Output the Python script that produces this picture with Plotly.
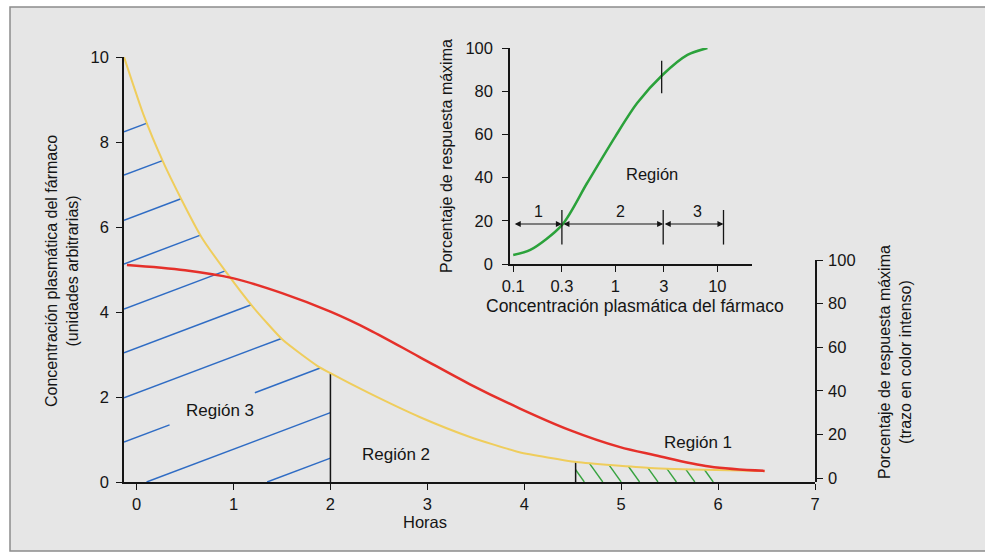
import numpy as np
import plotly.graph_objects as go

FONT = "Liberation Sans, Arial, sans-serif"
INK = "#151515"

# ---------------- main chart data ----------------
hours_conc = [-0.13, 0.07, 0.27, 0.46, 0.67, 0.93, 1.2, 1.51, 1.86, 2.0, 2.4, 2.92, 3.44, 3.95, 4.54, 5.3, 5.98, 6.48]
conc = [10.0, 8.65, 7.55, 6.66, 5.76, 4.92, 4.12, 3.34, 2.74, 2.56, 2.09, 1.53, 1.06, 0.7, 0.47, 0.33, 0.28, 0.26]

hours_resp = [-0.1, 0.5, 0.99, 1.5, 2.0, 2.4, 2.92, 3.44, 3.95, 4.47, 4.98, 5.35, 5.91, 6.48]
resp = [97.7, 95.3, 91.7, 84.8, 76.3, 68.0, 55.5, 43.0, 32.0, 22.0, 14.3, 10.5, 5.3, 3.3]

x_ticks = [0, 1, 2, 3, 4, 5, 6, 7]
y_ticks = [0, 2, 4, 6, 8, 10]
resp_ticks = [0, 20, 40, 60, 80, 100]

region_names = ["Región 3", "Región 2", "Región 1"]
region_label_x = [0.86, 2.68, 5.79]
region_label_y = [1.69, 0.64, 0.94]
region_limits = [2.0, 4.53, 5.96]

region3_hatch_offsets = [8.24, 7.22, 6.16, 5.13, 4.07, 3.04, 1.98, 0.94, -0.2, -1.27]
region3_hatch_slope = 0.86
region1_hatch_feet = [4.62, 4.81, 5.0, 5.19, 5.38, 5.57, 5.76, 5.95]
region1_hatch_slope = -3.2

# ---------------- inset data ----------------
inset_conc = [0.1, 0.147, 0.3, 0.53, 1.0, 1.64, 2.9, 5.1, 8.0]
inset_resp = [4.2, 6.5, 18, 37.5, 59, 74.5, 87.5, 96.8, 100]
inset_ticks = [0.1, 0.3, 1, 3, 10]
inset_tick_text = ["0.1", "0.3", "1", "3", "10"]
inset_bounds = [0.1, 0.3, 2.95, 11.5]
inset_region_names = ["1", "2", "3"]
inset_region_label_x = [0.176, 1.12, 6.4]
inset_arrow_level = 18.5

X_MIN = -0.13

fig = go.Figure()

def runs(xs, mask):
    segs = []
    idx = np.where(mask)[0]
    if len(idx) == 0:
        return segs
    breaks = np.where(np.diff(idx) > 1)[0]
    starts = np.concatenate([[idx[0]], idx[breaks + 1]])
    ends = np.concatenate([idx[breaks], [idx[-1]]])
    for s, e in zip(starts, ends):
        segs.append((xs[s], xs[e]))
    return segs

# Region 3 hatch (blue)
xs = np.linspace(X_MIN, region_limits[0], 5000)
ycurve = np.interp(xs, hours_conc, conc)
gap_box = (0.34, 1.22, 1.25, 2.15)  # keep label "Región 3" readable
hx, hy = [], []
for c in region3_hatch_offsets:
    f = c + region3_hatch_slope * (xs - X_MIN)
    ok = (f >= 0) & (f <= ycurve)
    in_box = (xs > gap_box[0]) & (xs < gap_box[1]) & (f > gap_box[2]) & (f < gap_box[3])
    ok &= ~in_box
    for a, b in runs(xs, ok):
        hx += [a, b, None]
        hy += [c + region3_hatch_slope * (a - X_MIN), c + region3_hatch_slope * (b - X_MIN), None]
fig.add_trace(go.Scatter(x=hx, y=hy, mode="lines", line=dict(color="#2f6cc4", width=1.5),
                         hoverinfo="skip", showlegend=False))

# Region 1 hatch (green)
xs1 = np.linspace(region_limits[1], region_limits[2], 3000)
yc1 = np.interp(xs1, hours_conc, conc)
gx, gy = [], []
for xb in region1_hatch_feet:
    f = region1_hatch_slope * (xs1 - xb)
    ok = (f >= 0) & (f <= yc1)
    for a, b in runs(xs1, ok):
        gx += [a, b, None]
        gy += [region1_hatch_slope * (a - xb), region1_hatch_slope * (b - xb), None]
fig.add_trace(go.Scatter(x=gx, y=gy, mode="lines", line=dict(color="#37a33f", width=1.4),
                         hoverinfo="skip", showlegend=False))

# region boundary verticals
vx, vy = [], []
for xv in region_limits[:2]:
    vx += [xv, xv, None]
    vy += [0, float(np.interp(xv, hours_conc, conc)), None]
fig.add_trace(go.Scatter(x=vx, y=vy, mode="lines", line=dict(color=INK, width=1.5),
                         hoverinfo="skip", showlegend=False))

# concentration curve (yellow)
fig.add_trace(go.Scatter(x=hours_conc, y=conc, mode="lines",
                         line=dict(color="#efcd5c", width=2, shape="spline", smoothing=0.5),
                         showlegend=False))
# response curve (red) on right axis
fig.add_trace(go.Scatter(x=hours_resp, y=resp, yaxis="y2", mode="lines",
                         line=dict(color="#e5302a", width=2.5, shape="spline", smoothing=1.0), showlegend=False))

# ---------- inset ----------
fig.add_trace(go.Scatter(x=inset_conc, y=inset_resp, xaxis="x2", yaxis="y3", mode="lines",
                         line=dict(color="#2ba23b", width=2.5, shape="spline", smoothing=0.8), showlegend=False))
mx, my = [], []
for b in inset_bounds[1:]:
    mx += [b, b, None]
    my += [inset_arrow_level - 9.5, inset_arrow_level + 6.5, None]
xc = 2.85
yc = float(np.interp(np.log10(xc), np.log10(inset_conc), inset_resp))
mx += [xc, xc, None]
my += [yc - 8, yc + 7, None]
fig.add_trace(go.Scatter(x=mx, y=my, xaxis="x2", yaxis="y3", mode="lines",
                         line=dict(color=INK, width=1.3), hoverinfo="skip", showlegend=False))

annotations = []
for i in range(3):
    annotations.append(dict(
        x=np.log10(inset_bounds[i + 1]), y=inset_arrow_level, xref="x2", yref="y3",
        ax=np.log10(inset_bounds[i]), ay=inset_arrow_level, axref="x2", ayref="y3",
        text="", showarrow=True, arrowhead=2, startarrowhead=2, arrowside="end+start",
        arrowsize=1.1, startarrowsize=1.1, arrowwidth=1.1, arrowcolor=INK))
    annotations.append(dict(
        x=np.log10(inset_region_label_x[i]), y=24.5, xref="x2", yref="y3",
        xanchor="center", yanchor="middle",
        text=inset_region_names[i], showarrow=False, font=dict(size=16, color=INK, family=FONT)))
annotations.append(dict(x=np.log10(2.3), y=41.7, xref="x2", yref="y3", text="Región",
                        xanchor="center", yanchor="middle",
                        showarrow=False, font=dict(size=16.5, color=INK, family=FONT)))

for name, xv, yv in zip(region_names, region_label_x, region_label_y):
    annotations.append(dict(x=xv, y=yv, xref="x", yref="y", text=name, showarrow=False,
                            xanchor="center", yanchor="middle",
                            font=dict(size=17, color=INK, family=FONT)))

L, R, T, B = 124, 170, 48, 70
W, H = 985, 552
pw, ph = W - L - R, H - T - B
def px2paper(px, py):
    return (px - L) / pw, (H - B - py) / ph

def title(px, py, text, size, angle=0):
    x, y = px2paper(px, py)
    return dict(x=x, y=y, xref="paper", yref="paper", textangle=angle, showarrow=False,
                xanchor="center", yanchor="middle", text=text,
                font=dict(size=size, color=INK, family=FONT))

annotations.append(title(62, 271, "Concentración plasmática del fármaco<br>(unidades arbitrarias)", 16, -90))
annotations.append(title(895, 362, "Porcentaje de respuesta máxima<br>(trazo en color intenso)", 16, -90))
annotations.append(title(425, 522, "Horas", 16.5))
annotations.append(title(635, 306, "Concentración plasmática del fármaco", 17.5))
annotations.append(title(446, 156, "Porcentaje de respuesta máxima", 16, -90))

# background frame
fx0, fy1 = px2paper(10, 7)
fx1, fy0 = px2paper(995, 551)
shapes = [dict(type="rect", xref="paper", yref="paper", x0=fx0, x1=fx1, y0=fy0, y1=fy1,
               fillcolor="#e6e6e6", line=dict(color="#8c8c8c", width=1.5), layer="below")]

tickfont = dict(size=16.5, color=INK, family=FONT)
axis_common = dict(showline=True, linecolor=INK, linewidth=1.5, ticks="outside", ticklen=6,
                   tickcolor=INK, tickwidth=1.3, showgrid=False, zeroline=False, tickfont=tickfont)

main_top = (H - B - 57) / ph
y2_top = (H - B - 260) / ph
in_x0, _ = px2paper(510, 0)
in_x1, _ = px2paper(752, 0)
_, in_y0 = px2paper(0, 264)

fig.update_layout(
    width=W, height=H, autosize=False,
    margin=dict(l=L, r=R, t=T, b=B, pad=0),
    paper_bgcolor="white", plot_bgcolor="rgba(0,0,0,0)",
    font=dict(family=FONT, color=INK),
    showlegend=False,
    xaxis=dict(range=[X_MIN, 7], domain=[0, 1], anchor="y", tickvals=x_ticks, **axis_common),
    yaxis=dict(range=[0, 10], domain=[0, main_top], anchor="x", tickvals=y_ticks,
               ticklabelstandoff=4, **axis_common),
    yaxis2=dict(range=[-1.8, 100], domain=[0, y2_top], anchor="x", side="right", tickvals=resp_ticks,
                ticklabelstandoff=2, **axis_common),
    xaxis2=dict(type="log", range=[np.log10(0.093), 1.34], domain=[in_x0, in_x1], anchor="y3",
                tickvals=inset_ticks, ticktext=inset_tick_text, **axis_common),
    yaxis3=dict(range=[0, 100], domain=[in_y0, 1.0], anchor="x2", tickvals=resp_ticks,
                ticklabelstandoff=6, **axis_common),
    annotations=annotations,
    shapes=shapes,
)

fig.write_html("out.html")
